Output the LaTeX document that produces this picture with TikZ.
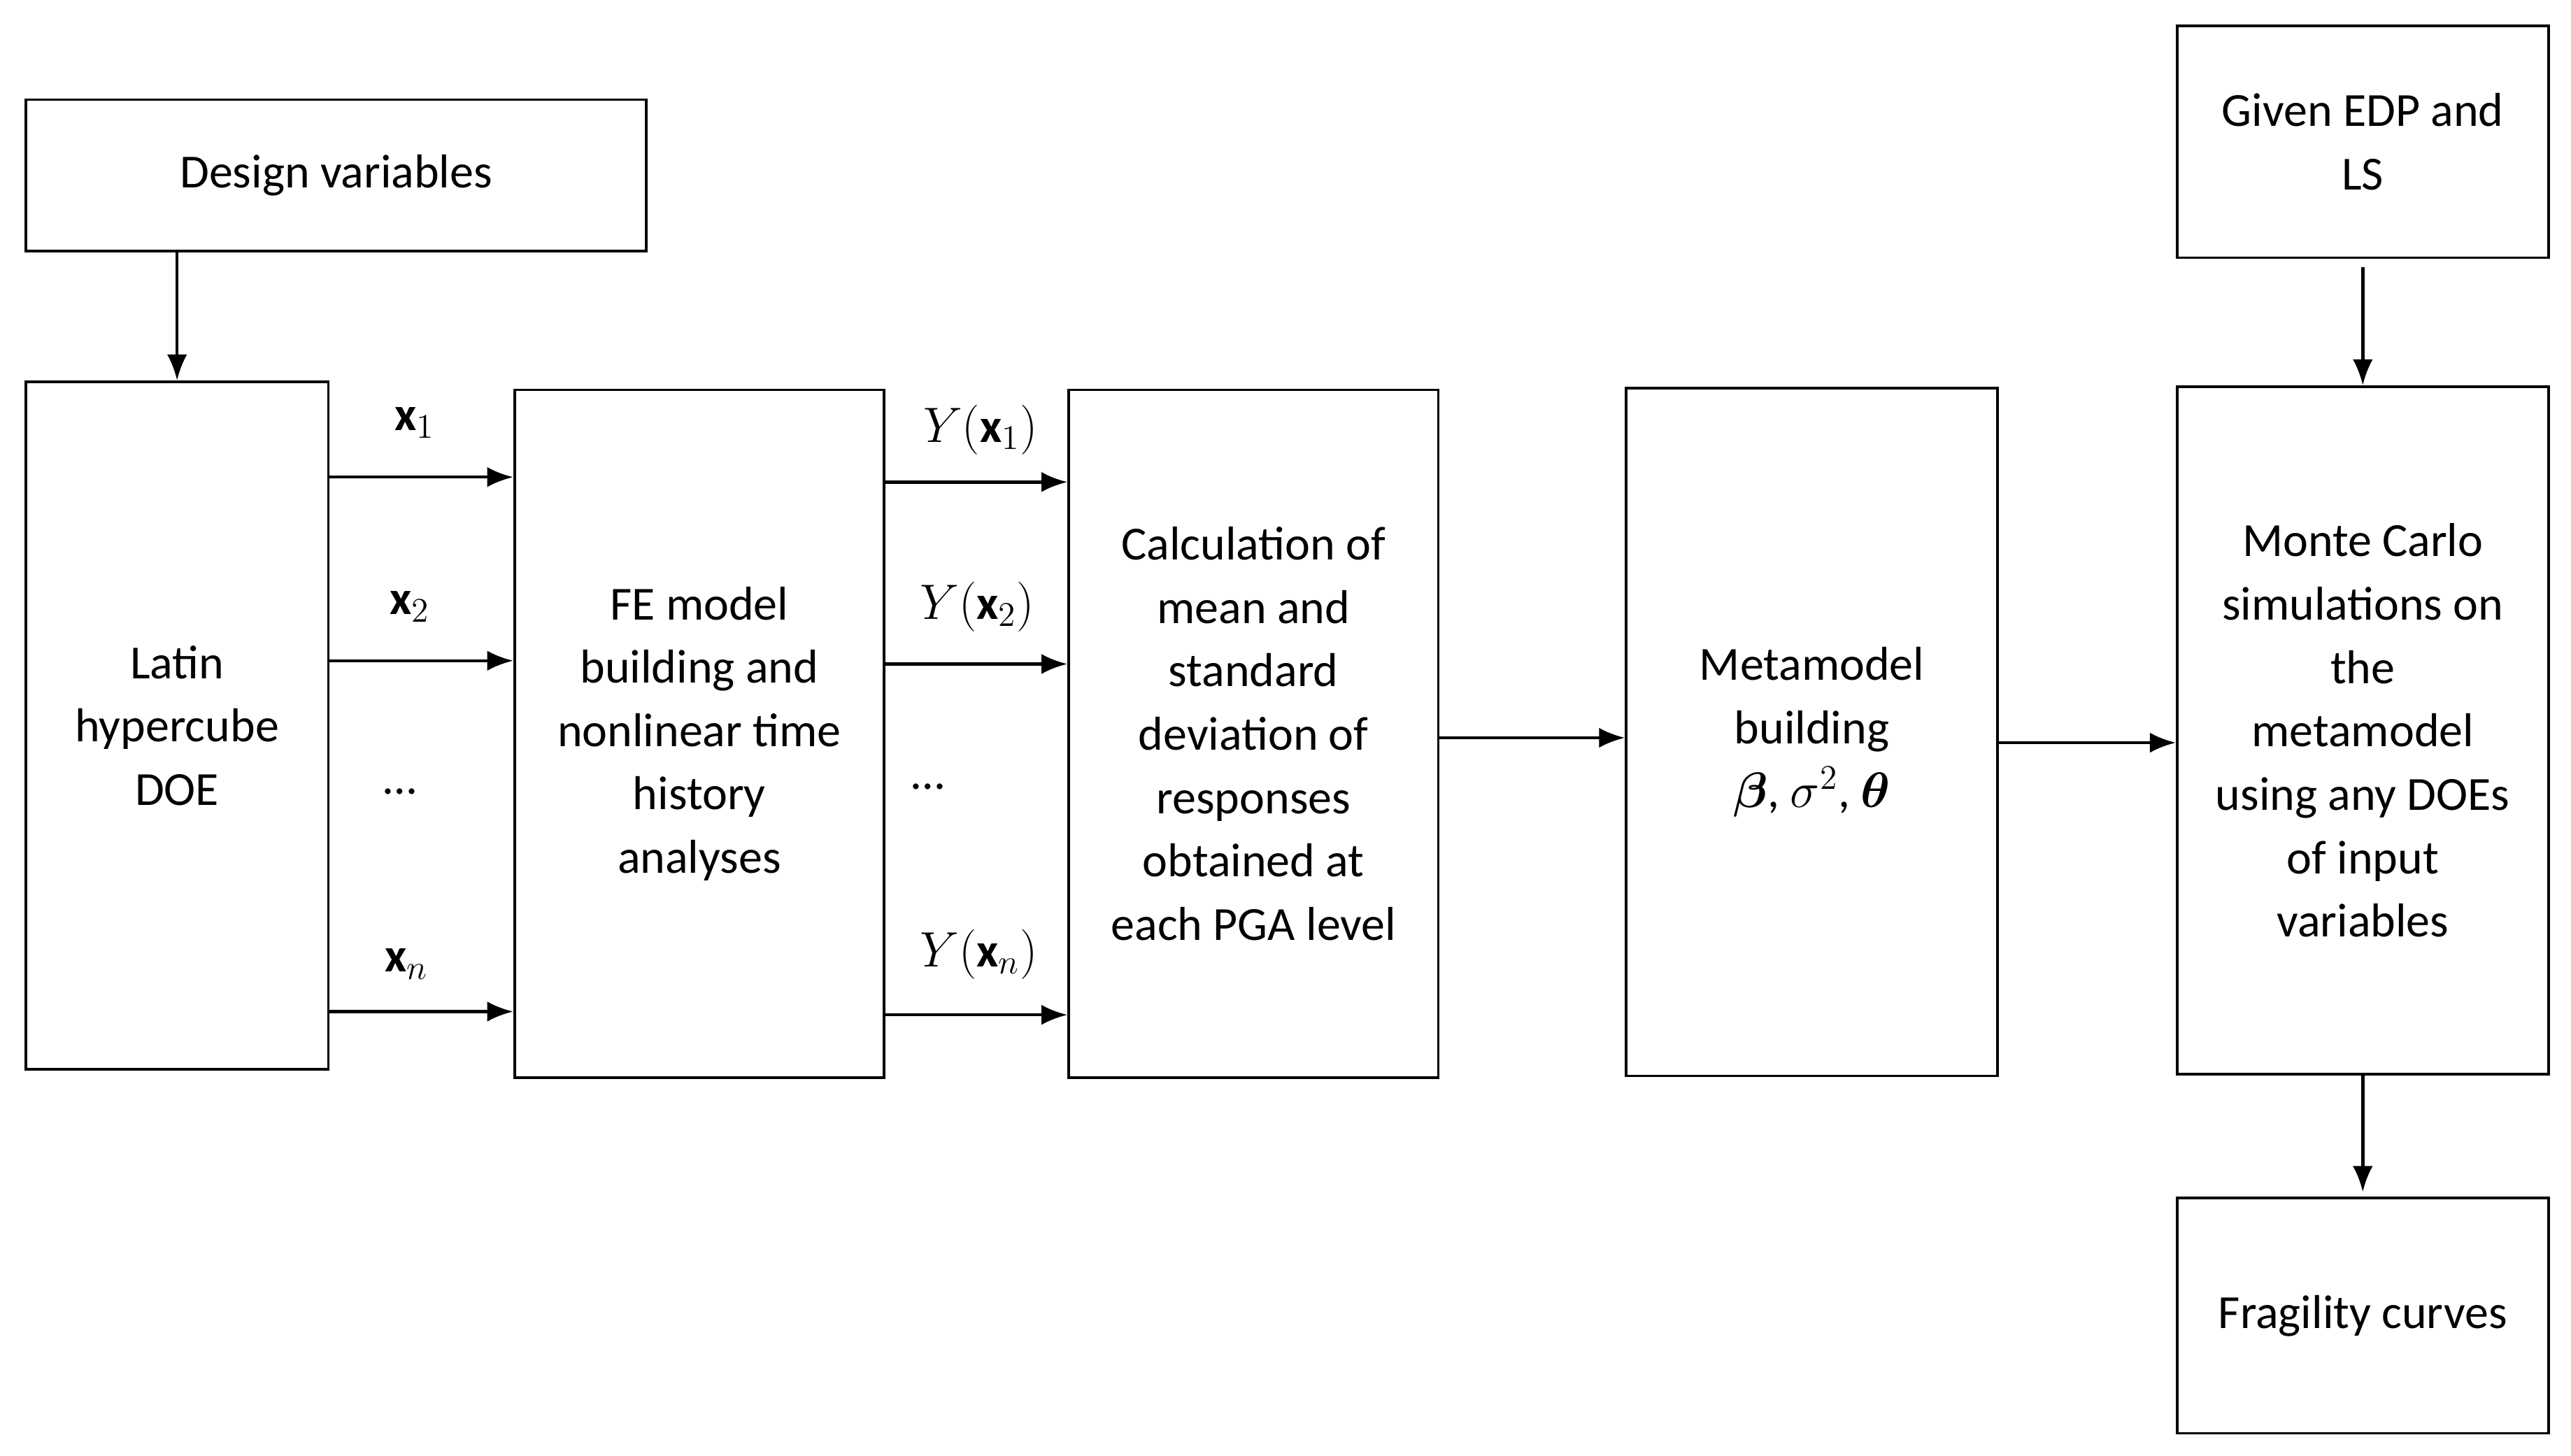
\documentclass[tikz,border=0pt]{standalone}
\usepackage{amsmath,bm}
\usepackage{fontspec}
\setmainfont{Carlito}
\usetikzlibrary{arrows.meta}
\begin{document}
\begin{tikzpicture}[x=0.02cm,y=-0.02cm,
  box/.style={draw,line width=0.9pt,align=center,inner sep=0pt,font=\fontsize{16.5}{22}\selectfont},
  arr/.style={line width=1.1pt,-{Latex[length=9pt,width=7pt]}},
  lab/.style={font=\fontsize{16.5}{22}\selectfont}]
\useasboundingbox (0,0) rectangle (1568,888);
\newcommand{\bx}[6]{\node[box,minimum width=#4*0.02cm-0.9pt,minimum height=#5*0.02cm-0.9pt] (#1) at (#2,#3) {#6};}
\bx{dv}{205}{107}{380}{94}{Design variables}
\bx{lat}{108}{442.5}{186}{421}{Latin\\hypercube\\DOE}
\bx{fe}{426.5}{447.5}{227}{421}{FE model\\building and\\nonlinear time\\history\\analyses}
\bx{calc}{764.5}{447.5}{227}{421}{Calculation of\\mean and\\standard\\deviation of\\responses\\obtained at\\each PGA level}
\bx{meta}{1105}{446.5}{228}{421}{Metamodel\\building\\$\bm{\beta}$, $\sigma^2$, $\bm{\theta}$}
\bx{mc}{1441}{445.5}{228}{421}{Monte Carlo\\simulations on\\the\\metamodel\\using any DOEs\\of input\\variables}
\bx{given}{1441}{86.5}{228}{143}{Given EDP and\\LS}
\bx{frag}{1441}{802.5}{228}{145}{Fragility curves}
\draw[arr] (lat.north |- dv.south) -- (lat.north);
\coordinate (a1) at (0,291); \coordinate (a2) at (0,403); \coordinate (a3) at (0,617);
\coordinate (b1) at (0,294); \coordinate (b2) at (0,405); \coordinate (b3) at (0,619);
\foreach \c in {a1,a2,a3} \draw[arr] (lat.east |- \c) -- (fe.west |- \c);
\foreach \c in {b1,b2,b3} \draw[arr] (fe.east |- \c) -- (calc.west |- \c);
\node[lab] (l1) at (253,258) {$\mathbf{x}_1$};
\node[lab] (l2) at (250,370) {$\mathbf{x}_2$};
\node[lab] (l3) at (244,483) {\dots};
\node[lab] (l4) at (248,588) {$\mathbf{x}_n$};
\node[lab] (m1) at (598,262) {$Y(\mathbf{x}_1)$};
\node[lab] (m2) at (596,370) {$Y(\mathbf{x}_2)$};
\node[lab] (m3) at (566,480) {\dots};
\node[lab] (m4) at (597,582) {$Y(\mathbf{x}_n)$};
\coordinate (c1) at (0,450); \coordinate (c2) at (0,453);
\draw[arr] (calc.east |- c1) -- (meta.west |- c1);
\draw[arr] (meta.east |- c2) -- (mc.west |- c2);
\draw[arr] ([yshift=-5*0.02cm]given.south) -- (mc.north);
\draw[arr] (mc.south) -- ([yshift=3*0.02cm]frag.north);
\end{tikzpicture}
\end{document}
